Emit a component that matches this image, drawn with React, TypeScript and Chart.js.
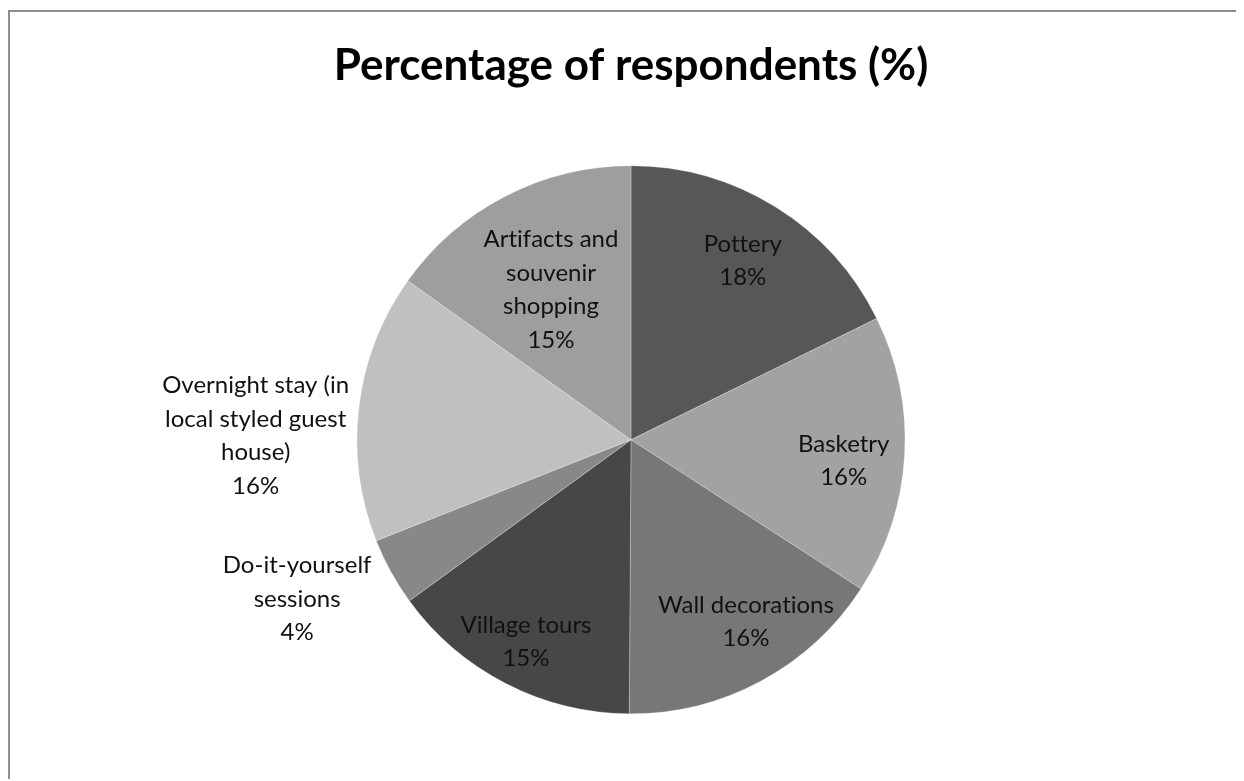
import React, { useEffect, useRef } from "react";
import { Chart, registerables } from "chart.js";

Chart.register(...registerables);

const categories: string[][] = [
  ["Pottery"],
  ["Basketry"],
  ["Wall decorations"],
  ["Village tours"],
  ["Do-it-yourself", "sessions"],
  ["Overnight stay (in", "local styled guest", "house)"],
  ["Artifacts and", "souvenir", "shopping"],
];
const values: number[] = [17.7, 16.45, 15.95, 14.9, 4.0, 15.85, 15.15];
const sliceColors: string[] = ["#575757", "#a2a2a2", "#777777", "#474747", "#888888", "#c0c0c0", "#9e9e9e"];
const titleText = "Percentage of respondents (%)";

// label anchor: angle (deg clockwise from top) and distance as fraction of radius
const labelAngles: number[] = [32, 95.6, 147.7, 207.5, 244.5, 270.6, 331.9];
const labelDist: number[] = [0.77, 0.78, 0.785, 0.83, 1.35, 1.37, 0.62];

const FONT = "Lato, 'Open Sans', sans-serif";

const labelPlugin = {
  id: "sliceLabels",
  afterDatasetsDraw(chart: any) {
    const meta = chart.getDatasetMeta(0);
    const ctx = chart.ctx;
    const data = chart.data.datasets[0].data as number[];
    const total = data.reduce((a, b) => a + b, 0);
    ctx.save();
    ctx.font = `24px ${FONT}`;
    try {
      (ctx as any).textRendering = "optimizeSpeed";
    } catch (e) {}
    ctx.fillStyle = "#111111";
    ctx.textAlign = "center";
    ctx.textBaseline = "middle";
    const lineH = 33.5;
    meta.data.forEach((arc: any, i: number) => {
      const { x, y, outerRadius } = arc.getProps(["x", "y", "outerRadius"], true);
      const a = (labelAngles[i] * Math.PI) / 180;
      const r = outerRadius * labelDist[i];
      const cx = x + Math.sin(a) * r;
      const cy = y - Math.cos(a) * r;
      const lines = [...categories[i], `${Math.round((data[i] / total) * 100)}%`];
      const startY = cy - ((lines.length - 1) * lineH) / 2;
      lines.forEach((ln, k) => ctx.fillText(ln, cx, startY + k * lineH));
    });
    ctx.restore();
  },
};

export default function App() {
  const ref = useRef<HTMLCanvasElement | null>(null);
  useEffect(() => {
    if (!ref.current) return;
    const chart = new Chart(ref.current, {
      type: "pie",
      data: {
        labels: categories.map((c) => c.join(" ")),
        datasets: [
          {
            data: values,
            backgroundColor: sliceColors,
            borderColor: "rgba(255,255,255,0.35)",
            borderWidth: 0.75,
            radius: 274,
          } as any,
        ],
      },
      options: {
        animation: false,
        responsive: true,
        maintainAspectRatio: false,
        layout: { padding: { left: 16, right: 0, top: 0, bottom: 7 } },
        plugins: {
          legend: { display: false },
          tooltip: { enabled: false },
          title: {
            display: true,
            text: titleText,
            color: "#000000",
            font: { family: FONT, size: 44, weight: "bold" },
            padding: { top: 27, bottom: 13.8 },
          },
        },
      },
      plugins: [labelPlugin],
    });
    return () => chart.destroy();
  }, []);
  return (
    <div
      style={{
        position: "relative",
        top: 2,
        width: 1228,
        height: 771,
        borderLeft: "2px solid #8e8e8e",
        borderTop: "2px solid #8e8e8e",
        boxSizing: "border-box",
        background: "#ffffff",
      }}
    >
      <canvas ref={ref} />
    </div>
  );
}
